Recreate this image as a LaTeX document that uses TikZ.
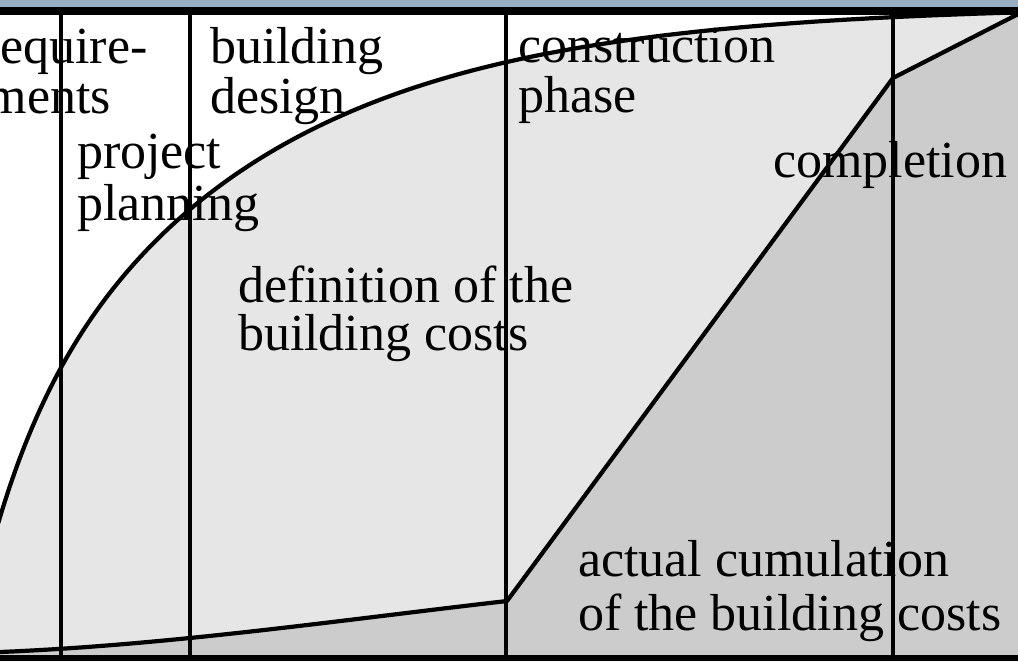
\documentclass[tikz,border=0pt]{standalone}
\usepackage{fontspec}
\setmainfont{Liberation Serif}
\definecolor{bandblue}{RGB}{150,174,191}
\definecolor{lightfill}{RGB}{230,230,230}
\definecolor{darkfill}{RGB}{204,204,204}
\tikzset{
  lbl/.style={anchor=base west, inner sep=0pt, outer sep=0pt, font=\fontsize{26}{26}\selectfont, text=black},
  curveline/.style={line width=2.1pt, line join=round},
  phaseline/.style={line width=2.2pt},
  planplot/.style={domain=-20:1018, samples=140, smooth, variable=\t},
}
\begin{document}
\begin{tikzpicture}[x=0.5pt,y=-0.5pt]
\useasboundingbox (0,0) rectangle (1018,661);
\begin{scope}
\clip (0,0) rectangle (1018,661);
% background
\fill[white] (0,15) rectangle (1018,655);
% light region under the planning curve
\fill[lightfill] (-20,661) -- plot[planplot] ({\t},{5+433*exp(-\t/250)+79*exp(-\t/50)}) -- (1018,661) -- cycle;
% dark region under the actual cost line
\fill[darkfill] (0,661) -- (0,652) .. controls (170,645) and (337,620.5) .. (507,601) -- (893,78) -- (1030,8) -- (1030,661) -- cycle;
% curves
\draw[curveline] plot[planplot] ({\t},{5+433*exp(-\t/250)+79*exp(-\t/50)});
\coordinate (c0) at (0,652);
\coordinate (c1) at (507,601);
\coordinate (c2) at (893,78);
\coordinate (c3) at (1030,8);
\draw[curveline] (c0) .. controls (170,645) and (337,620.5) .. (c1) -- (c2) -- (c3);
% phase boundaries
\coordinate (t1) at (61,15);  \coordinate (b1) at (61,655);
\coordinate (t2) at (190,15); \coordinate (b2) at (190,655);
\coordinate (t3) at (506,15); \coordinate (b3) at (506,655);
\coordinate (t4) at (893,15); \coordinate (b4) at (893,655);
\draw[phaseline] (t1) -- (b1);
\draw[phaseline] (t2) -- (b2);
\draw[phaseline] (t3) -- (b3);
\draw[phaseline] (t4) -- (b4);
% frame bars
\fill[bandblue] (0,0) rectangle (1018,7);
\fill[black] (0,7) rectangle (1018,15);
\fill[black] (0,655) rectangle (1018,661);
% labels
\node[lbl] (req1) at (-17,63) {require-};
\node[lbl] (req2) at (-13,113) {ments};
\node[lbl] (bd1) at (210,63) {building};
\node[lbl] (bd2) at (210,113) {design};
\node[lbl] (pp1) at (77,168) {project};
\node[lbl] (pp2) at (77,220) {planning};
\node[lbl] (cp1) at (518,62) {construction};
\node[lbl] (cp2) at (518,112) {phase};
\node[lbl] (def1) at (238,302) {definition of the};
\node[lbl] (def2) at (238,350) {building costs};
\node[lbl] (comp) at (773,177) {completion};
\node[lbl] (act1) at (578,576) {actual cumulation};
\node[lbl] (act2) at (578,630) {of the building costs};
\end{scope}
\end{tikzpicture}
\end{document}
